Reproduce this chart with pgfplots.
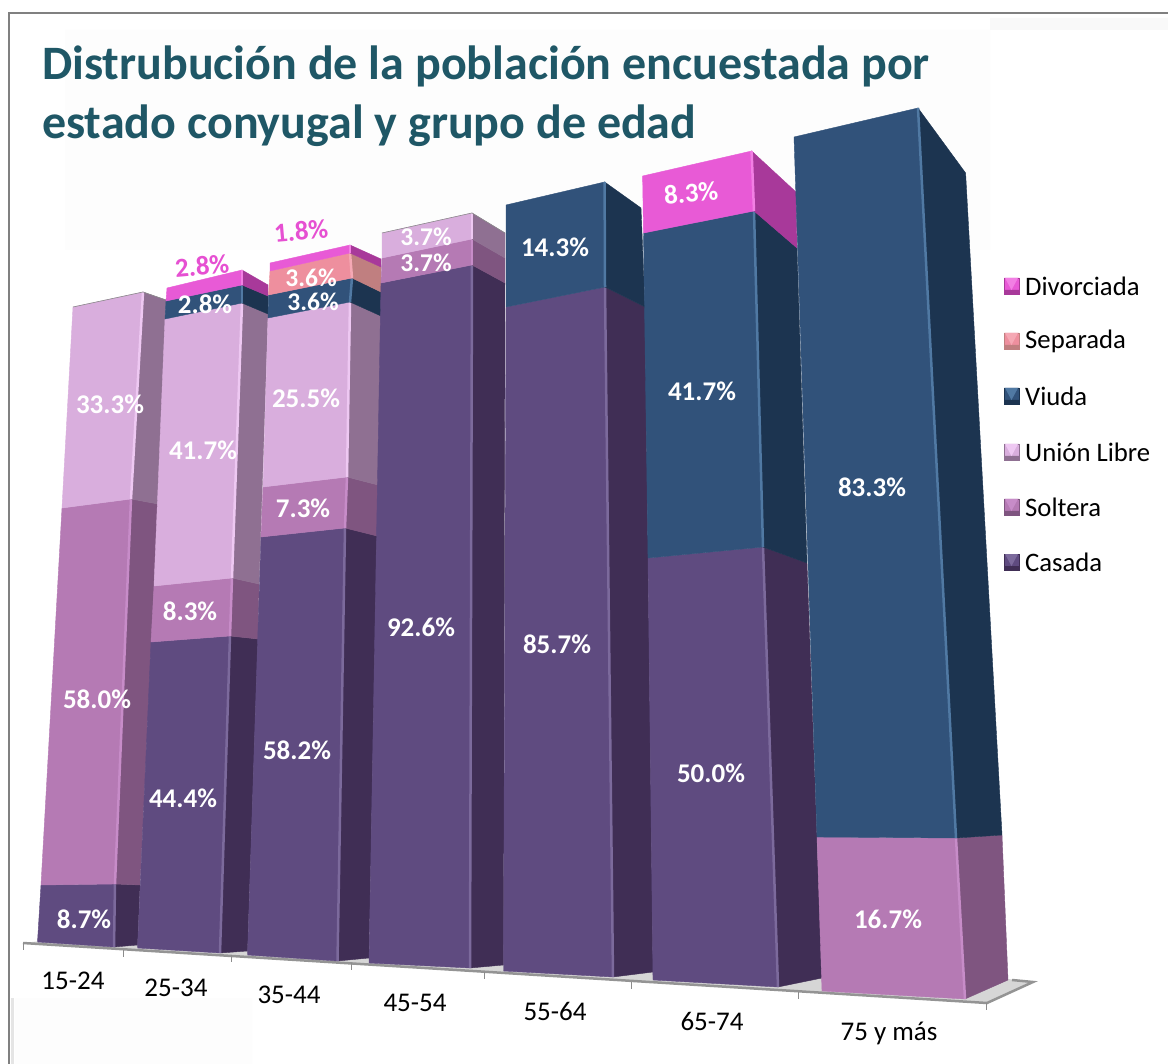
\documentclass[border=0pt]{standalone}
\usepackage{fontspec}
\setmainfont{Carlito}
\usepackage{pgfplots}
\pgfplotsset{compat=1.18}
\definecolor{casF}{HTML}{5F4B80}\definecolor{casS}{HTML}{402E55}\definecolor{casH}{HTML}{7C6A9C}
\definecolor{solF}{HTML}{B57AB4}\definecolor{solS}{HTML}{7F5580}\definecolor{solH}{HTML}{C78CC8}
\definecolor{uniF}{HTML}{D9AEDD}\definecolor{uniS}{HTML}{8F7092}\definecolor{uniH}{HTML}{EEC8F2}
\definecolor{viuF}{HTML}{31527A}\definecolor{viuS}{HTML}{1C3450}\definecolor{viuH}{HTML}{5079A3}
\definecolor{sepF}{HTML}{EE8F9E}\definecolor{sepS}{HTML}{C07F80}\definecolor{sepH}{HTML}{F5A8B4}
\definecolor{divF}{HTML}{E85AD6}\definecolor{divS}{HTML}{A8399A}\definecolor{divH}{HTML}{F27FE4}
\definecolor{titc}{HTML}{1F5766}
\definecolor{pinkt}{HTML}{E650D2}
% one stacked segment of a 3D bar: colour, bottom left/middle/right, top left/middle/right
\newcommand{\seg}[7]{%
 \addplot[fill=#1F,draw=#1F,line width=.4pt] coordinates {(#2)(#3)(#6)(#5)(#2)};
 \addplot[fill=#1S,draw=#1S,line width=.4pt] coordinates {(#3)(#4)(#7)(#6)(#3)};
 \addplot[draw=#1H,line width=2.5pt] coordinates {(#3)(#6)};
}
\newcommand{\lab}[3]{\node[text=white,font=\fontsize{27}{29}\selectfont\bfseries,inner sep=0pt] at (axis cs:#1,#2) {#3\%};}
\newcommand{\slab}[3]{\node[text=white,font=\fontsize{25.5}{27}\selectfont\bfseries,inner sep=0pt] at (axis cs:#1,#2) {#3\%};}
\newcommand{\plab}[3]{\node[text=pinkt,font=\fontsize{27}{29}\selectfont\bfseries,inner sep=0pt,rotate=5] at (axis cs:#1,#2) {#3\%};}
\newcommand{\wlab}[3]{\node[text=white,font=\fontsize{27}{29}\selectfont\bfseries,inner sep=0pt,rotate=5] at (axis cs:#1,#2) {#3\%};}
\newcommand{\cat}[3]{\node[text=black,font=\fontsize{27}{29}\selectfont,inner sep=0pt] at (axis cs:#1,#2) {#3};}
\newcommand{\tick}[2]{\addplot[draw=black!45,line width=1pt] coordinates {(#1,#2)(#1,#2+7)};}
% legend key: colour, centre y, text
\newcommand{\key}[3]{%
 \pgfmathsetmacro{\ya}{#2-8}\pgfmathsetmacro{\yb}{#2+8}\pgfmathsetmacro{\yc}{#2+4}\pgfmathsetmacro{\yd}{#2}%
 \addplot[fill=#1F,draw=#1S,line width=.6pt] coordinates {(1004,\ya)(1019,\ya)(1019,\yb)(1004,\yb)(1004,\ya)};
 \addplot[fill=#1S,draw=none] coordinates {(1004,\yc)(1019,\yc)(1019,\yb)(1004,\yb)(1004,\yc)};
 \addplot[fill=#1H,draw=none] coordinates {(1005,\ya)(1018,\ya)(1011.5,\yc)(1005,\ya)};
 \node[anchor=west,text=black,font=\fontsize{26.7}{29}\selectfont,inner sep=0pt] at (axis cs:1025,#2) {#3};
}
\begin{document}
\begin{tikzpicture}
\begin{axis}[
  scale only axis, width=1168pt, height=1064pt,
  xmin=0, xmax=1168, ymin=0, ymax=1064, y dir=reverse,
  hide axis, clip=true, every axis plot post/.append style={mark=none}]
% page and faint backgrounds
\addplot[fill=white,draw=none] coordinates {(0,0)(1168,0)(1168,1064)(0,1064)(0,0)};
\addplot[fill=black!0.7,draw=none] coordinates {(65,30)(990,30)(990,250)(65,250)(65,30)};
\addplot[fill=black!0.7,draw=none] coordinates {(15,998)(252,998)(252,1064)(15,1064)(15,998)};
\addplot[fill=black!2.5,draw=none] coordinates {(990,18)(1168,18)(1168,30)(990,30)(990,18)};
\addplot[draw=black!50,line width=2pt] coordinates {(8.5,1064)(8.5,13)(1168,13)};
\addplot[draw=black!10,line width=3pt] coordinates {(12.5,998)(12.5,1064)};
% floor
\addplot[fill=black!16,draw=none] coordinates {(23,943)(987,1003)(1033,982)(1008,979)(140,930)(23,943)};
\addplot[draw=black!42,line width=2.5pt] coordinates {(23,943)(987,1003)(1033,982)(1012,980)};
\tick{23}{943}\tick{123}{950}\tick{231}{955}\tick{351}{963}\tick{484}{972}\tick{631}{982}\tick{798}{992}\tick{986}{1003}
% 15-24
\seg{cas}{37.5,942}{114,947}{137.5,945}{41,885}{115,884}{140,885}
\seg{sol}{41,885}{115,884}{140,885}{62,508}{131,499}{158,504}
\seg{uni}{62,508}{131,499}{158,504}{73,307}{143,292}{166,300}
% 25-34
\seg{cas}{137.5,948}{220,953}{247.5,951}{151,642}{230,636}{258,639}
\seg{sol}{151,642}{230,636}{258,639}{154,586}{232,578}{259,584}
\seg{uni}{154,586}{232,578}{259,584}{165,319}{242,303}{268,314}
\seg{viu}{165,319}{242,303}{268,314}{166,301}{242,285}{268,296}
\seg{div}{166,301}{242,285}{268,296}{167,288}{242,270}{268,285}
% 35-44
\seg{cas}{247.5,955}{337.5,961}{369,958}{261,537}{345,528}{377,536}
\seg{sol}{261,537}{345,528}{377,536}{263,487}{347,477}{378,485}
\seg{uni}{263,487}{347,477}{378,485}{268,318}{350,302}{381,316}
\seg{viu}{268,318}{350,302}{381,316}{268.5,295}{352,278}{381,292}
\seg{sep}{268.5,295}{352,278}{381,292}{270,271}{350,253}{381,267}
\seg{div}{270,271}{350,253}{381,267}{270,263}{350,245}{381,259}
% 45-54
\seg{cas}{369,963}{470,968}{503.5,965}{381,283}{472,265}{505,283}
\seg{sol}{381,283}{472,265}{505,283}{382,258}{472,239}{505,258}
\seg{uni}{382,258}{472,239}{505,258}{382,233}{472,213}{505,233}
% 55-64
\seg{cas}{503.5,971}{613,977}{653,972}{506,307}{605,287}{645,307}
\seg{viu}{506,307}{605,287}{645,307}{506,205}{604.6,182}{641,208}
% 65-74
\seg{cas}{653,980}{778,987}{822,978}{648,558}{763,547}{807,563}
\seg{viu}{648,558}{763,547}{807,563}{643.5,233}{754,211}{797,248}
\seg{div}{643.5,233}{754,211}{797,248}{642.6,176}{751.6,151}{796,192}
% 75 y mas
\seg{sol}{822,991}{965,999}{1008,980}{817,837}{956,838}{1002,835}
\seg{viu}{817,837}{956,838}{1002,835}{794,137}{918,108}{965.6,173}
% thin top edges of the pale bars
\addplot[draw=black!45,line width=.6pt] coordinates {(73,307)(143,292)(166,300)};
\addplot[draw=black!45,line width=.6pt] coordinates {(382,233)(472,213)(505,233)};
% data labels
\lab{84}{919}{8.7}\lab{97}{699}{58.0}\lab{110}{404}{33.3}
\lab{183}{798}{44.4}\lab{190}{611}{8.3}\lab{203}{450}{41.7}\lab{205}{304}{2.8}\plab{202}{266}{2.8}
\lab{297}{750}{58.2}\lab{303}{508}{7.3}\lab{306}{398}{25.5}\slab{313}{302}{3.6}\slab{311}{278}{3.6}\plab{301}{231}{1.8}
\lab{421}{627}{92.6}\slab{426}{263}{3.7}\slab{426}{237}{3.7}
\lab{557}{644}{85.7}\lab{555}{247}{14.3}
\lab{711}{773}{50.0}\lab{702}{391}{41.7}\wlab{691}{193}{8.3}
\lab{888}{919}{16.7}\lab{872}{487}{83.3}
% category labels
\cat{73}{981}{15-24}\cat{176}{988}{25-34}\cat{289}{995}{35-44}\cat{415}{1003}{45-54}
\cat{555}{1011}{55-64}\cat{712}{1021}{65-74}\cat{889}{1033}{75 y más}
% legend
\key{div}{286}{Divorciada}
\key{sep}{341}{Separada}
\key{viu}{396}{Viuda}
\key{uni}{452}{Unión Libre}
\key{sol}{507}{Soltera}
\key{cas}{562}{Casada}
% title
\node[anchor=west,text=titc,font=\fontsize{48}{52}\selectfont\bfseries,inner sep=0pt] at (axis cs:42,66) {Distrubución de la población encuestada por};
\node[anchor=west,text=titc,font=\fontsize{48}{52}\selectfont\bfseries,inner sep=0pt] at (axis cs:42,126) {estado conyugal y grupo de edad};
\end{axis}
\end{tikzpicture}
\end{document}
